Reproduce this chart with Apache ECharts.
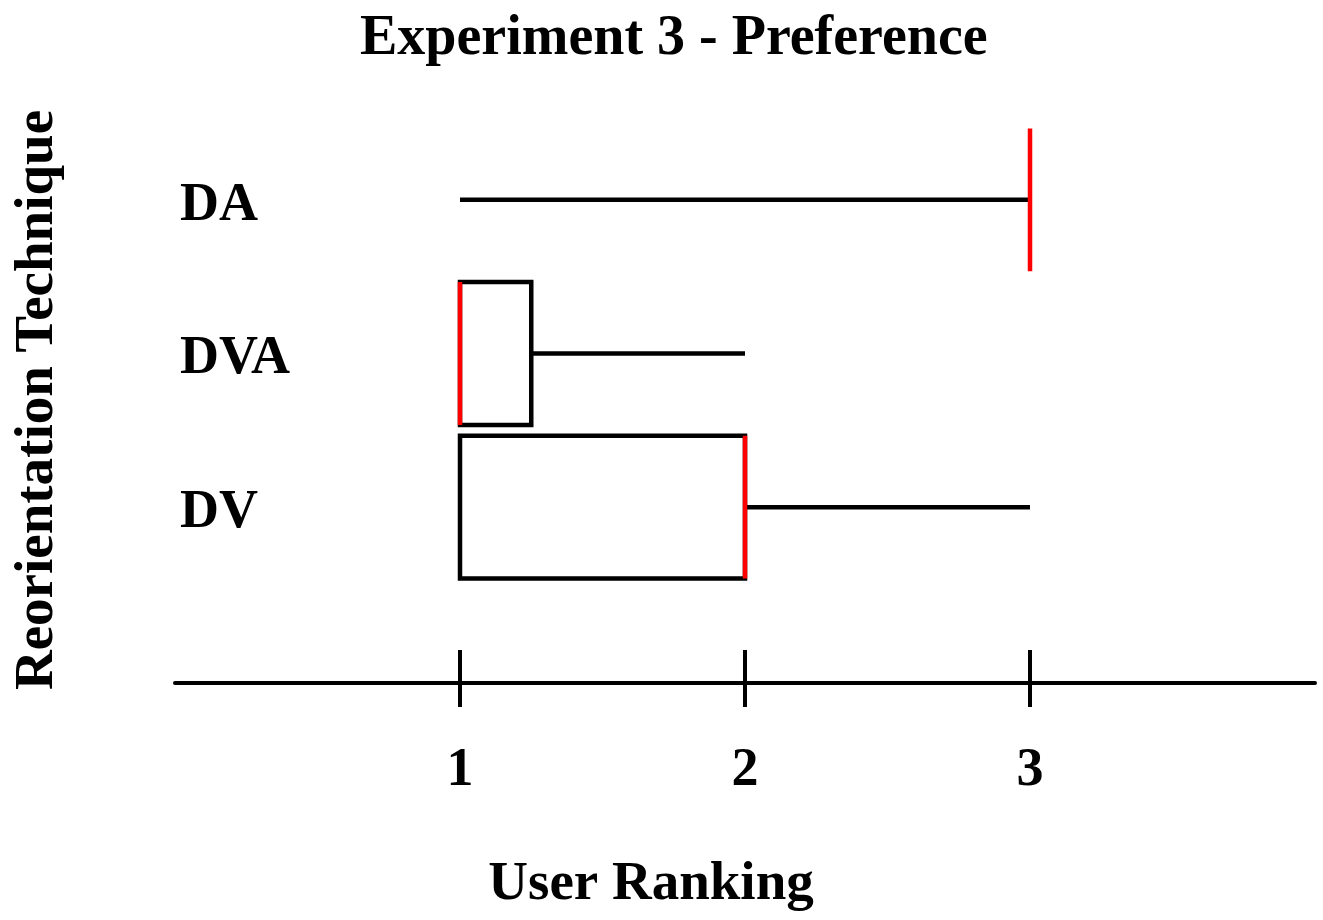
<!DOCTYPE html>
<html>
<head>
<meta charset="utf-8">
<script src="https://cdn.jsdelivr.net/npm/echarts@6/dist/echarts.min.js"></script>
<style>
  html, body { margin: 0; padding: 0; background: #fff; }
  #chart { width: 1323px; height: 920px; }
</style>
</head>
<body>
<div id="chart"></div>
<script>
// === Data === //
const categories = ['DV', 'DVA', 'DA'] // bottom to top
const mins = [1, 1, 1]
const q1s = [1, 1, 3]
const medians = [2, 1, 3]
const q3s = [2, 1.25, 3]
const maxs = [3, 2, 3]
const tickValues = [1, 2, 3]

const font = '"Liberation Serif", "Times New Roman", serif'
const black = '#000000'
const red = '#ff0000'

const boxData = categories.map((c, i) => [i, mins[i], q1s[i], medians[i], q3s[i], maxs[i]])

const renderBox = (params, api) => {
  const idx = api.value(0)
  const lo = api.value(1), q1 = api.value(2), med = api.value(3), q3 = api.value(4), hi = api.value(5)
  const half = api.size([0, 1])[1] * 0.465
  const cy = api.coord([0, idx])[1]
  const x = v => api.coord([v, idx])[0]
  const line = (x1, y1, x2, y2, color) => ({
    type: 'line',
    shape: { x1, y1, x2, y2 },
    style: { stroke: color, lineWidth: 4.5, lineCap: 'butt' }
  })
  const children = []
  if (q3 > q1) {
    children.push({
      type: 'rect',
      shape: { x: x(q1), y: cy - half, width: x(q3) - x(q1), height: half * 2 },
      style: { fill: 'none', stroke: black, lineWidth: 4.5, lineJoin: 'miter' }
    })
  }
  if (lo < q1) children.push(line(x(lo), cy, x(q1), cy, black))
  if (hi > q3) children.push(line(x(q3), cy, x(hi), cy, black))
  children.push(line(x(med), cy - half, x(med), cy + half, red))
  return { type: 'group', children }
}

const chart = echarts.init(document.getElementById('chart'))

const labelStyle = { fontFamily: font, fontWeight: 'bold', fontSize: 54, color: black }

chart.setOption({
  animation: false,
  backgroundColor: '#ffffff',
  title: {
    text: 'Experiment 3 - Preference',
    left: 355,
    top: 7,
    textStyle: { fontFamily: font, fontWeight: 'bold', fontSize: 56, color: black }
  },
  grid: { left: 175, right: 8, top: 123, bottom: 336, containLabel: false },
  xAxis: [
    {
      type: 'value',
      min: 0,
      max: 4,
      interval: 1,
      offset: 99,
      splitLine: { show: false },
      axisLine: { show: true, lineStyle: { color: black, width: 4 } },
      axisTick: { show: true, customValues: tickValues, length: 24, lineStyle: { color: black, width: 4 } },
      axisLabel: { customValues: tickValues, margin: 61, ...labelStyle }
    },
    {
      type: 'value',
      min: 0,
      max: 4,
      interval: 1,
      offset: 99,
      position: 'bottom',
      splitLine: { show: false },
      axisLine: { show: false },
      axisTick: { show: true, inside: true, customValues: tickValues, length: 33, lineStyle: { color: black, width: 4 } },
      axisLabel: { show: false }
    }
  ],
  yAxis: {
    type: 'category',
    data: categories,
    axisLine: { show: false },
    axisTick: { show: false },
    splitLine: { show: false },
    axisLabel: {
      inside: true,
      margin: 5,
      formatter: v => `{c|${v}}`,
      rich: { c: { ...labelStyle, padding: [12, 0, 0, 0] } },
      ...labelStyle
    }
  },
  graphic: [
    {
      type: 'text',
      x: 38,
      y: 400,
      rotation: Math.PI / 2,
      style: {
        text: 'Reorientation Technique',
        fontFamily: font,
        fontWeight: 'bold',
        fontSize: 55,
        fill: black,
        align: 'center',
        verticalAlign: 'middle'
      }
    },
    {
      type: 'text',
      x: 651,
      y: 885,
      style: {
        text: 'User Ranking',
        fontFamily: font,
        fontWeight: 'bold',
        fontSize: 55,
        fill: black,
        align: 'center',
        verticalAlign: 'middle'
      }
    }
  ],
  series: [
    {
      type: 'custom',
      renderItem: renderBox,
      encode: { y: 0, x: [1, 2, 3, 4, 5] },
      data: boxData
    }
  ]
})
</script>
</body>
</html>
